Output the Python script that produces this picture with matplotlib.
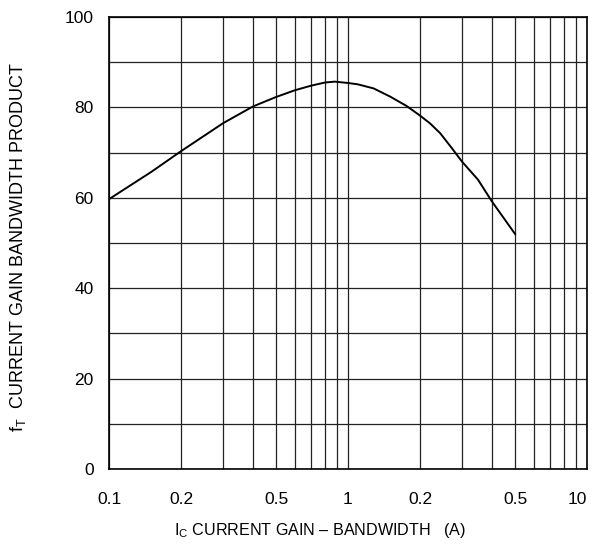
import matplotlib
matplotlib.use("Agg")
import matplotlib.pyplot as plt
from matplotlib.ticker import FixedLocator, NullFormatter

plt.rcParams['font.family'] = ['Liberation Sans', 'DejaVu Sans']
plt.rcParams['mathtext.fontset'] = 'custom'
plt.rcParams['mathtext.rm'] = 'Liberation Sans'

# Data
ic_current = [0.1, 0.15, 0.2, 0.3, 0.4, 0.5, 0.6, 0.7, 0.8, 0.88, 1.0, 1.1, 1.28, 1.5, 1.76,
              2.0, 2.2, 2.43, 2.7, 3.0, 3.5, 4.0, 4.5, 5.0]
ft_value = [59.7, 65.7, 70.3, 76.5, 80.2, 82.3, 83.8, 84.8, 85.5, 85.7, 85.4, 85.1, 84.2, 82.4, 80.3,
            78.2, 76.5, 74.3, 71.2, 68.0, 64.0, 59.2, 55.4, 52.0]

x_major = [0.1, 0.2, 0.5, 1, 2, 5, 10]
x_labels = ["0.1", "0.2", "0.5", "1", "0.2", "0.5", "10"]
x_grid = [m * d for d in (0.1, 1) for m in range(1, 10)] + [10]
y_major = [0, 20, 40, 60, 80, 100]
y_grid = list(range(0, 101, 10))

fig = plt.figure(figsize=(5.98, 5.47), dpi=100)
ax = fig.add_axes([109 / 598, 78 / 547, 478 / 598, 452 / 547])

ax.set_xscale('log')
ax.set_xlim(0.1, 10)
ax.set_ylim(0, 100)

for g in x_grid:
    ax.axvline(g, color='#222222', lw=0.9, zorder=1)
for g in y_grid:
    ax.axhline(g, color='#222222', lw=0.9, zorder=1)

ax.plot(ic_current, ft_value, color='black', lw=1.4, zorder=3)

ax.xaxis.set_major_locator(FixedLocator(x_major))
ax.set_xticklabels(x_labels)
ax.xaxis.set_minor_locator(FixedLocator([]))
ax.xaxis.set_minor_formatter(NullFormatter())
ax.set_yticks(y_major)
ax.tick_params(axis='both', length=0, labelsize=12.5)
ax.tick_params(axis='x', pad=16.5)
ax.tick_params(axis='y', pad=11)
ax.get_xticklabels()[-1].set_horizontalalignment('right')

for s in ax.spines.values():
    s.set_linewidth(1.2)
    s.set_color('black')
    s.set_zorder(4)

ax.set_xlabel(r"I$_\mathregular{C}$ CURRENT GAIN – BANDWIDTH   (A)", fontsize=11.6)
ax.xaxis.set_label_coords(0.441, -0.116)
ax.set_ylabel(r"f$_\mathregular{T}$  CURRENT GAIN BANDWIDTH PRODUCT", fontsize=13)
ax.yaxis.set_label_coords(-0.169, 0.49)

fig.savefig("out.png", dpi=100)
